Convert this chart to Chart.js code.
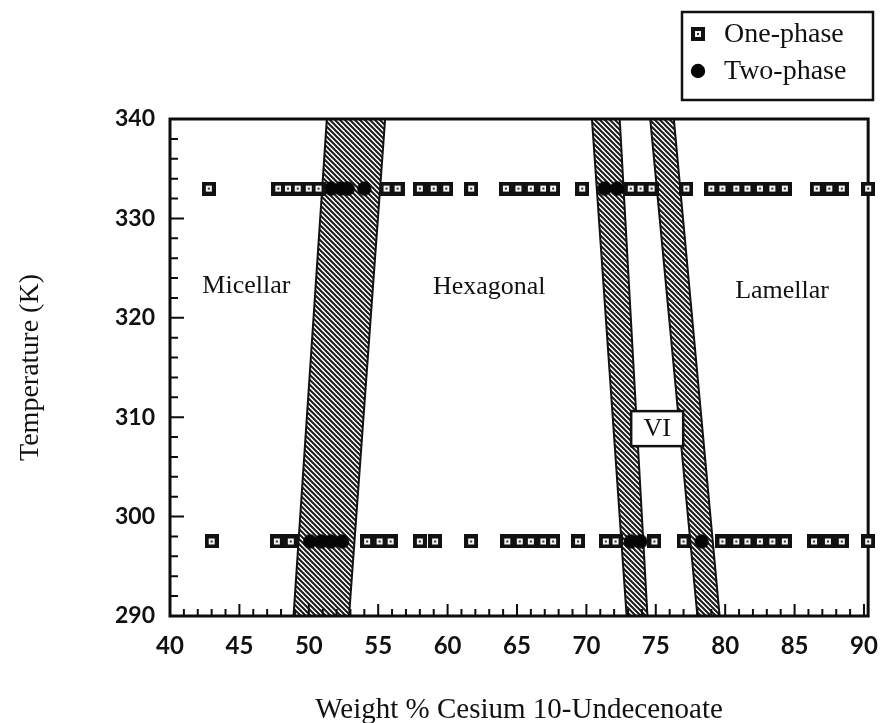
<!DOCTYPE html>
<html>
<head>
<meta charset="utf-8">
<script src="https://cdn.jsdelivr.net/npm/chart.js@4/dist/chart.umd.min.js"></script>
<style>
  html, body { margin: 0; padding: 0; background: #ffffff; }
  #wrap { width: 894px; height: 723px; position: relative; }
</style>
</head>
<body>
<div id="wrap"><canvas id="c" width="894" height="723"></canvas></div>
<script>
// ---- data -------------------------------------------------------------
// two measurement temperatures (K)
const upperTemp = 333.0;
const lowerTemp = 297.5;

// compositions (wt %) measured at the upper temperature
const onePhaseUpper = [42.8, 47.8, 48.5, 49.2, 50.0, 50.7, 55.6, 56.4, 58.0, 59.0, 59.9, 61.7,
                       64.2, 65.1, 66.0, 66.9, 67.6, 69.7, 73.2, 73.9, 74.7, 77.2, 79.0, 79.8,
                       80.8, 81.6, 82.5, 83.4, 84.3, 86.6, 87.5, 88.4, 90.3];
const twoPhaseUpper = [51.6, 52.3, 52.8, 54.0, 71.3, 72.2];

// compositions (wt %) measured at the lower temperature
const onePhaseLower = [43.0, 47.7, 48.7, 54.2, 55.1, 55.9, 58.0, 59.1, 61.7, 64.3, 65.2, 66.0,
                       66.9, 67.6, 69.4, 71.4, 72.1, 74.9, 77.0, 79.8, 80.8, 81.6, 82.5, 83.4,
                       84.3, 86.4, 87.4, 88.4, 90.3];
const twoPhaseLower = [50.1, 50.9, 51.6, 52.4, 73.2, 73.9, 78.3];

// two-phase coexistence bands: composition of each edge at 340 K and 290 K
const bandTemps = [340, 290];
const bandLeftEdges  = [[51.3, 48.9], [70.4, 72.9], [74.6, 78.0]];
const bandRightEdges = [[55.5, 52.9], [72.4, 74.4], [76.3, 79.6]];

// phase region names and where they sit (wt %, K)
const regionNames = ['Micellar', 'Hexagonal', 'Lamellar', 'VI'];
const regionComp  = [45.5, 63.0, 84.1, 75.1];
const regionTemp  = [323.2, 323.1, 322.7, 308.9];

// axes
const xTickValues = [40, 45, 50, 55, 60, 65, 70, 75, 80, 85, 90];
const yTickValues = [290, 300, 310, 320, 330, 340];
const legendLabels = ['One-phase', 'Two-phase'];

// ---- marker and hatch sprites ----------------------------------------------
function squareMarker() {
  const c = document.createElement('canvas');
  c.width = 14; c.height = 14;
  const g = c.getContext('2d');
  g.fillStyle = '#111';
  g.fillRect(0, 0, 14, 14);
  g.fillStyle = '#f4f4f4';
  g.fillRect(4, 4, 6, 6);
  g.fillStyle = '#333';
  g.fillRect(6, 6, 2, 2);
  return c;
}
function dotMarker() {
  const c = document.createElement('canvas');
  c.width = 16; c.height = 16;
  const g = c.getContext('2d');
  g.fillStyle = '#050505';
  g.beginPath();
  g.arc(8, 8, 7.2, 0, Math.PI * 2);
  g.fill();
  return c;
}
function hatchPattern(ctx) {
  const s = 5;
  const c = document.createElement('canvas');
  c.width = s; c.height = s;
  const g = c.getContext('2d');
  g.fillStyle = '#ffffff';
  g.fillRect(0, 0, s, s);
  g.strokeStyle = '#1a1a1a';
  g.lineWidth = 2;
  g.beginPath();
  g.moveTo(-1, -1); g.lineTo(s + 1, s + 1);
  g.moveTo(-1, s - 1); g.lineTo(1, s + 1);
  g.moveTo(s - 1, -1); g.lineTo(s + 1, 1);
  g.stroke();
  return ctx.createPattern(c, 'repeat');
}
const squareImg = squareMarker();
const dotImg = dotMarker();

const serif = '"Liberation Serif", "Times New Roman", serif';
const tickFamily = 'Lato, "Open Sans", sans-serif';

function pts(xs, t) { return xs.map(x => ({ x: x, y: t })); }

// ---- plugins ---------------------------------------------------------------
// hatched bands, plot frame and inward tick marks (under the markers)
const phaseBands = {
  id: 'phaseBands',
  beforeDatasetsDraw(chart) {
    const { ctx, chartArea: a, scales: { x, y } } = chart;
    ctx.save();
    ctx.beginPath();
    ctx.rect(a.left, a.top, a.right - a.left, a.bottom - a.top);
    ctx.clip();
    const pat = hatchPattern(ctx);
    for (let i = 0; i < bandLeftEdges.length; i++) {
      const L = bandLeftEdges[i], R = bandRightEdges[i];
      ctx.beginPath();
      ctx.moveTo(x.getPixelForValue(L[0]), y.getPixelForValue(bandTemps[0]));
      ctx.lineTo(x.getPixelForValue(R[0]), y.getPixelForValue(bandTemps[0]));
      ctx.lineTo(x.getPixelForValue(R[1]), y.getPixelForValue(bandTemps[1]));
      ctx.lineTo(x.getPixelForValue(L[1]), y.getPixelForValue(bandTemps[1]));
      ctx.closePath();
      ctx.fillStyle = pat;
      ctx.fill();
      ctx.strokeStyle = '#111';
      ctx.lineWidth = 2;
      ctx.stroke();
    }
    ctx.restore();

    // frame
    ctx.save();
    ctx.strokeStyle = '#0d0d0d';
    ctx.lineWidth = 3;
    ctx.strokeRect(a.left, a.top, a.right - a.left, a.bottom - a.top);

    // inward ticks
    ctx.lineWidth = 2;
    ctx.beginPath();
    for (let v = 290; v <= 340; v += 2) {
      const py = y.getPixelForValue(v);
      const len = v % 10 === 0 ? 14 : 8;
      ctx.moveTo(a.left, py); ctx.lineTo(a.left + len, py);
    }
    for (let v = 40; v <= 90; v += 1) {
      const px = x.getPixelForValue(v);
      const len = v % 5 === 0 ? 12 : 7;
      ctx.moveTo(px, a.bottom); ctx.lineTo(px, a.bottom - len);
    }
    ctx.stroke();
    ctx.restore();
  }
};

// region names, the VI box and the legend
const annotations = {
  id: 'annotations',
  afterDatasetsDraw(chart) {
    const { ctx, scales: { x, y } } = chart;
    ctx.save();
    ctx.fillStyle = '#111';
    ctx.textAlign = 'center';
    ctx.textBaseline = 'middle';
    ctx.font = '26px ' + serif;
    for (let i = 0; i < 3; i++) {
      ctx.fillText(regionNames[i], x.getPixelForValue(regionComp[i]), y.getPixelForValue(regionTemp[i]));
    }
    // VI label in a box
    const vx = x.getPixelForValue(regionComp[3]);
    const vy = y.getPixelForValue(regionTemp[3]);
    ctx.fillStyle = '#fff';
    ctx.fillRect(vx - 26, vy - 17, 52, 35);
    ctx.strokeStyle = '#111';
    ctx.lineWidth = 2.5;
    ctx.strokeRect(vx - 26, vy - 17, 52, 35);
    ctx.fillStyle = '#111';
    ctx.fillText(regionNames[3], vx, vy + 1);

    // legend
    ctx.lineWidth = 2.5;
    ctx.strokeRect(682, 12, 191, 88);
    ctx.drawImage(squareImg, 691, 27);
    ctx.drawImage(dotImg, 690, 63);
    ctx.textAlign = 'left';
    ctx.font = '28px ' + serif;
    ctx.fillText(legendLabels[0], 724, 35);
    ctx.fillText(legendLabels[1], 724, 72);
    ctx.restore();
  }
};

// ---- chart -----------------------------------------------------------------
new Chart(document.getElementById('c'), {
  type: 'scatter',
  data: {
    datasets: [
      { label: legendLabels[0], data: pts(onePhaseUpper, upperTemp).concat(pts(onePhaseLower, lowerTemp)),
        pointStyle: squareImg, clip: false },
      { label: legendLabels[1], data: pts(twoPhaseUpper, upperTemp).concat(pts(twoPhaseLower, lowerTemp)),
        pointStyle: dotImg, clip: false }
    ]
  },
  options: {
    responsive: false,
    animation: false,
    layout: { padding: { top: 119, right: 17, left: 0, bottom: 0 } },
    plugins: { legend: { display: false }, tooltip: { enabled: false } },
    scales: {
      x: {
        type: 'linear', position: 'bottom', min: 40, max: 90.3,
        afterFit(s) { s.height = 107; },
        afterBuildTicks(s) { s.ticks = xTickValues.map(v => ({ value: v })); },
        grid: { display: false, drawTicks: false },
        border: { display: false },
        ticks: { color: '#111', padding: 16, font: { family: tickFamily, size: 24, weight: 'bold' },
                 maxRotation: 0, autoSkip: false },
        title: { display: true, text: 'Weight % Cesium 10-Undecenoate', color: '#111',
                 font: { family: serif, size: 29 }, padding: { top: 0, bottom: -5 } }
      },
      y: {
        type: 'linear', min: 290, max: 340,
        afterFit(s) { s.width = 170; },
        afterBuildTicks(s) { s.ticks = yTickValues.map(v => ({ value: v })); },
        grid: { display: false, drawTicks: false },
        border: { display: false },
        ticks: { color: '#111', padding: 15, font: { family: tickFamily, size: 23, weight: 'bold' } },
        title: { display: true, text: 'Temperature (K)', color: '#111',
                 font: { family: serif, size: 28 }, padding: { top: 14, bottom: 0 } }
      }
    }
  },
  plugins: [phaseBands, annotations]
});
</script>
</body>
</html>
